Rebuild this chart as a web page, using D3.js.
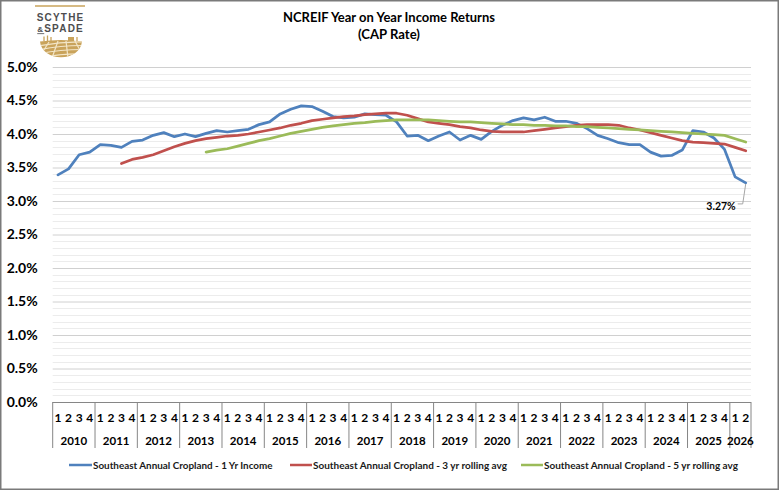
<!DOCTYPE html>
<html>
<head>
<meta charset="utf-8">
<script src="https://cdn.jsdelivr.net/npm/d3@7"></script>
<style>
  html, body { margin: 0; padding: 0; background: #fff; }
  svg { display: block; font-family: Lato, "Open Sans", sans-serif; }
</style>
</head>
<body>
<svg id="chart" width="780" height="491"></svg>
<script>
// ---------------- DATA ----------------
const years = ["2010","2011","2012","2013","2014","2015","2016","2017","2018","2019","2020","2021","2022","2023","2024","2025","2026"];
const quartersPerYear = [4,4,4,4,4,4,4,4,4,4,4,4,4,4,4,4,2];
const quarterLabels = ["1","2","3","4"];

const income1yr = [3.39,3.48,3.69,3.73, 3.84,3.83,3.80,3.89, 3.91,3.98,4.02,3.96, 4.00,3.96,4.01,4.05,
  4.03,4.05,4.07,4.14, 4.18,4.30,4.37,4.42, 4.41,4.34,4.26,4.24, 4.25,4.30,4.29,4.28,
  4.18,3.97,3.98,3.90, 3.97,4.03,3.91,3.98, 3.92,4.04,4.13,4.20, 4.24,4.21,4.25,4.19,
  4.19,4.16,4.08,3.98, 3.93,3.87,3.84,3.84, 3.73,3.67,3.68,3.76, 4.05,4.03,3.94,3.77,
  3.36,3.27];
const rolling3yr = [null,null,null,null, null,null,3.56,3.62, 3.65,3.69,3.75,3.81, 3.86,3.90,3.93,3.95,
  3.97,3.98,4.00,4.03, 4.06,4.09,4.13,4.16, 4.20,4.22,4.24,4.26, 4.27,4.29,4.30,4.31,
  4.31,4.28,4.23,4.18, 4.16,4.14,4.11,4.09, 4.06,4.04,4.03,4.03, 4.03,4.05,4.07,4.09,
  4.11,4.13,4.14,4.14, 4.14,4.13,4.09,4.06, 4.02,3.98,3.94,3.90, 3.88,3.87,3.86,3.85,
  3.80,3.75];
const rolling5yr = [null,null,null,null, null,null,null,null, null,null,null,null, null,null,3.73,3.76,
  3.78,3.82,3.86,3.90, 3.93,3.97,4.01,4.04, 4.07,4.10,4.12,4.14, 4.16,4.17,4.19,4.20,
  4.21,4.21,4.21,4.21, 4.20,4.19,4.18,4.18, 4.17,4.16,4.15,4.14, 4.14,4.13,4.13,4.12,
  4.12,4.11,4.11,4.10, 4.09,4.08,4.07,4.06, 4.05,4.04,4.03,4.02, 4.01,4.00,3.99,3.98,
  3.93,3.88];

const seriesNames = ["Southeast Annual Cropland - 1 Yr Income",
                     "Southeast Annual Cropland - 3 yr rolling avg",
                     "Southeast Annual Cropland - 5 yr rolling avg"];
const seriesColors = ["#4f81bd","#c0504d","#9bbb59"];
const yMajorTicks = [0,0.5,1,1.5,2,2.5,3,3.5,4,4.5,5];
const lastLabel = "3.27%";
const titleLines = ["NCREIF Year on Year Income Returns","(CAP Rate)"];

// ---------------- LAYOUT ----------------
const svg = d3.select("#chart");
const plotL = 52.7, plotR = 751, plotT = 67, plotB = 402;

const cats = [];
years.forEach((yr, yi) => {
  for (let q = 0; q < quartersPerYear[yi]; q++) cats.push({year: yr, yi, q: quarterLabels[q]});
});

const x = d3.scaleBand().domain(d3.range(cats.length)).range([plotL, plotR]).padding(0);
const y = d3.scaleLinear().domain([0, 5]).range([plotB, plotT]);
const cx = i => x(i) + x.bandwidth() / 2;

function fitWidth(sel, target) {
  const w = sel.node().getComputedTextLength();
  const fs = parseFloat(sel.attr("font-size"));
  if (w > 0) sel.attr("font-size", fs * target / w);
}

// frame
svg.append("rect").attr("x", 0.75).attr("y", 0.75).attr("width", 777.5).attr("height", 488.5)
  .attr("fill", "#fff").attr("stroke", "#7a7a7a").attr("stroke-width", 1.5);

// ---------------- LOGO ----------------
const gold = "#c9a35b";
const logo = svg.append("g");
logo.append("line").attr("x1", 35).attr("x2", 85).attr("y1", 6).attr("y2", 6)
  .attr("stroke", gold).attr("stroke-width", 1.5);
logo.append("text").attr("x", 60.6).attr("y", 21).attr("text-anchor", "middle")
  .attr("font-family", "'Liberation Sans', Arial, sans-serif").attr("font-weight", 700).attr("font-size", 10)
  .attr("letter-spacing", 1.2).attr("fill", "#4d4d4f").text("SCYTHE");
const l2 = logo.append("text").attr("x", 60.6).attr("y", 32.3).attr("text-anchor", "middle")
  .attr("font-family", "'Liberation Sans', Arial, sans-serif").attr("font-weight", 700).attr("font-size", 10)
  .attr("letter-spacing", 1.2).attr("fill", "#4d4d4f");
l2.append("tspan").attr("font-size", 8).attr("text-decoration", "underline").text("&");
l2.append("tspan").text("SPADE");
// emblem bowl
const bowl = "M40,41.5 C41,51 50,57.3 61,57.3 C72,57.3 81,51 82,41.5 C68,39.5 54,39.5 40,41.5 Z";
logo.append("clipPath").attr("id", "bowlClip").append("path").attr("d", bowl);
logo.append("path").attr("d", bowl).attr("fill", gold);
const furrows = logo.append("g").attr("clip-path", "url(#bowlClip)")
  .attr("fill", "none").attr("stroke", "#f3e6c8").attr("stroke-width", 1.2);
[[38,46,84,42],[38,50,84,45.5],[38,54,84,49.5],[40,58,84,54]].forEach(f => {
  furrows.append("path").attr("d", `M${f[0]},${f[1]} Q61,${(f[1]+f[3])/2-2.5} ${f[2]},${f[3]}`);
});
[[58,41,52,58],[66,41,68,58],[49,42,40,56],[75,41,82,54]].forEach(f => {
  furrows.append("line").attr("x1", f[0]).attr("y1", f[1]).attr("x2", f[2]).attr("y2", f[3]);
});
const figs = logo.append("g").attr("stroke", gold).attr("stroke-width", 1.3);
[[44,36.5,41],[47.5,35.5,41],[51,37,41],[77,37,41]].forEach(f => {
  figs.append("line").attr("x1", f[0]).attr("x2", f[0]).attr("y1", f[1]).attr("y2", f[2]);
});
logo.append("rect").attr("x", 68).attr("y", 37).attr("width", 6).attr("height", 4).attr("fill", gold);

// ---------------- TITLE ----------------
const titleW = [212, 62];
titleLines.forEach((t, i) => {
  const tt = svg.append("text").attr("x", 389).attr("y", 21.5 + i * 17).attr("text-anchor", "middle")
    .attr("font-weight", 700).attr("font-size", 13).attr("fill", "#000").text(t);
  fitWidth(tt, titleW[i]);
});

// ---------------- GRID ----------------
const minorTicks = d3.range(0, 5.0001, 0.1).map(v => +v.toFixed(1)).filter(v => !yMajorTicks.includes(v));
svg.append("g").selectAll("line").data(minorTicks).join("line")
  .attr("x1", plotL).attr("x2", plotR)
  .attr("y1", d => Math.round(y(d)) + 0.5).attr("y2", d => Math.round(y(d)) + 0.5)
  .attr("stroke", "#ececec").attr("stroke-width", 1);

const yAxis = d3.axisLeft(y).tickValues(yMajorTicks)
  .tickFormat(d => d.toFixed(1) + "%").tickSize(-(plotR - plotL)).tickPadding(15);
const gy = svg.append("g").attr("transform", `translate(${plotL},0)`).call(yAxis);
gy.select(".domain").remove();
gy.selectAll(".tick line").attr("stroke", "#d0d0d0")
  .filter(d => d === 0).remove();
gy.selectAll(".tick text").attr("font-family", "Lato, sans-serif").attr("font-weight", 700)
  .attr("font-size", 14).attr("fill", "#000");

// ---------------- X AXIS (multi-level) ----------------
const axisColor = "#868686";
svg.append("line").attr("x1", plotL).attr("x2", plotR).attr("y1", plotB + 0.5).attr("y2", plotB + 0.5)
  .attr("stroke", axisColor).attr("stroke-width", 1);
const yearGroups = years.map((yr, yi) => {
  const idx = cats.map((c, i) => c.yi === yi ? i : -1).filter(i => i >= 0);
  return {year: yr, x0: x(idx[0]), x1: x(idx[idx.length - 1]) + x.bandwidth()};
});
const sepX = [yearGroups[0].x0].concat(yearGroups.map(g => g.x1));
svg.append("g").selectAll("line").data(sepX).join("line")
  .attr("x1", d => d).attr("x2", d => d).attr("y1", plotB).attr("y2", 448)
  .attr("stroke", axisColor).attr("stroke-width", 1);
svg.append("g").selectAll("text").data(cats).join("text")
  .attr("x", (d, i) => cx(i)).attr("y", 422).attr("text-anchor", "middle")
  .attr("font-weight", 700).attr("font-size", 12).attr("fill", "#000").text(d => d.q);
svg.append("g").selectAll("text").data(yearGroups).join("text")
  .attr("x", d => (d.x0 + d.x1) / 2).attr("y", 445).attr("text-anchor", "middle")
  .attr("font-weight", 700).attr("font-size", 11.5).attr("fill", "#000").text(d => d.year);

// ---------------- LINES ----------------
const line = d3.line().defined(d => d.v != null).x(d => cx(d.i)).y(d => y(d.v));
[income1yr, rolling3yr, rolling5yr].forEach((arr, si) => {
  svg.append("path").datum(arr.map((v, i) => ({v, i})))
    .attr("d", line).attr("fill", "none").attr("stroke", seriesColors[si])
    .attr("stroke-width", 2.75).attr("stroke-linejoin", "round").attr("stroke-linecap", "round");
});

// last value label with leader
const li = income1yr.length - 1;
const px = cx(li), py = y(income1yr[li]);
svg.append("path").attr("d", `M${px},${py + 1} L${px - 3},${py + 21} L${px - 8},${py + 21}`)
  .attr("fill", "none").attr("stroke", "#a6a6a6").attr("stroke-width", 1);
svg.append("text").attr("x", px - 10).attr("y", py + 27).attr("text-anchor", "end")
  .attr("font-weight", 700).attr("font-size", 10.5).attr("fill", "#000").text(lastLabel);

// ---------------- LEGEND ----------------
const legendPos = [{lx: 69, tx: 92, w: 180}, {lx: 290, tx: 312, w: 194}, {lx: 521, tx: 543, w: 194}];
const lg = svg.append("g");
seriesNames.forEach((name, i) => {
  const p = legendPos[i];
  lg.append("line").attr("x1", p.lx).attr("x2", p.tx).attr("y1", 465).attr("y2", 465)
    .attr("stroke", seriesColors[i]).attr("stroke-width", 2.5);
  const t = lg.append("text").attr("x", p.tx + 1).attr("y", 468.5)
    .attr("font-weight", 700).attr("font-size", 10.5).attr("fill", "#1a1a1a").text(name);
  fitWidth(t, p.w);
});
</script>
</body>
</html>
